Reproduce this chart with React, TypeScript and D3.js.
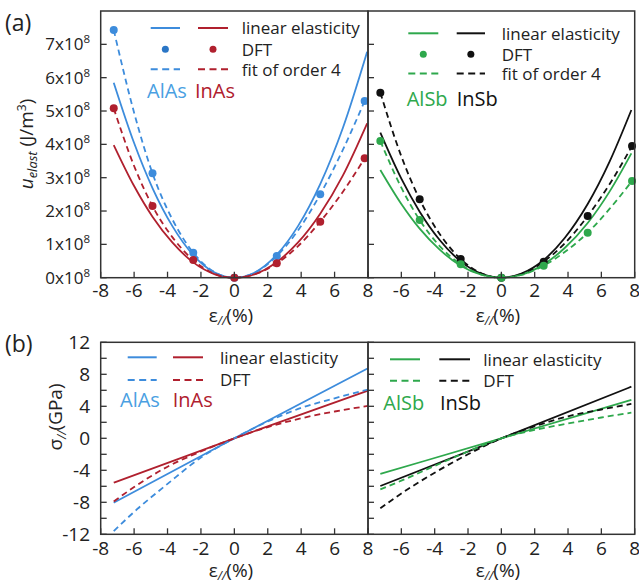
import React from "react";
import * as d3 from "d3";

// ---------- (a) energy density, 1e8 J/m^3 ----------
const linStrainA = [-7.22, -6, -4.9, -3.7, -2.46, -1.2, 0, 1.2, 2.54, 3.8, 5.14, 6.5, 7.95];
const alasLinU = [5.85, 4.04, 2.69, 1.54, 0.68, 0.16, 0, 0.15, 0.69, 1.54, 2.81, 4.5, 6.78];
const inasLinU = [3.98, 2.75, 1.83, 1.05, 0.46, 0.11, 0, 0.1, 0.47, 1.05, 1.92, 3.07, 4.63];
const dftStrainA = [-7.22, -4.9, -2.46, 0, 2.54, 5.14, 7.8];
const alasDftU = [7.43, 3.13, 0.75, 0, 0.65, 2.5, 5.3];
const inasDftU = [5.08, 2.15, 0.53, 0, 0.43, 1.68, 3.58];
const fitStrainA = [-7.22, -6, -4.9, -3.7, -2.46, -1.2, 0, 1.2, 2.54, 3.8, 5.14, 6.5, 7.8];
const alasFitU = [7.43, 4.95, 3.13, 1.74, 0.75, 0.17, 0, 0.145, 0.65, 1.41, 2.5, 3.84, 5.3];
const inasFitU = [5.08, 3.35, 2.15, 1.21, 0.53, 0.12, 0, 0.1, 0.43, 0.94, 1.68, 2.58, 3.58];

const linStrainB = [-7.26, -6, -4.9, -3.7, -2.44, -1.2, 0, 1.2, 2.54, 3.8, 5.18, 6.5, 7.8];
const insbLinU = [4.35, 2.97, 1.98, 1.13, 0.49, 0.12, 0, 0.12, 0.53, 1.19, 2.21, 3.49, 5.03];
const alsbLinU = [3.23, 2.21, 1.47, 0.84, 0.36, 0.09, 0, 0.09, 0.4, 0.89, 1.64, 2.59, 3.73];
const dftStrainB = [-7.26, -4.9, -2.44, 0, 2.54, 5.18, 7.84];
const insbDftU = [5.55, 2.35, 0.56, 0, 0.48, 1.85, 3.95];
const alsbDftU = [4.1, 1.73, 0.4, 0, 0.36, 1.35, 2.9];
const fitStrainB = [-7.26, -6, -4.9, -3.7, -2.44, -1.2, 0, 1.2, 2.54, 3.8, 5.18, 6.5, 7.84];
const insbFitU = [5.55, 3.64, 2.35, 1.31, 0.56, 0.13, 0, 0.11, 0.48, 1.03, 1.85, 2.81, 3.95];
const alsbFitU = [4.1, 2.7, 1.73, 0.95, 0.4, 0.095, 0, 0.082, 0.36, 0.77, 1.35, 2.07, 2.9];

// ---------- (b) stress, GPa ----------
const linSigStrainA = [-7.22, 0, 8];
const alasLinSigma = [-8.05, 0, 8.75];
const inasLinSigma = [-5.55, 0, 5.95];
const dftSigStrainA = [-7.22, -6, -4, -2, 0, 2, 4, 6, 8];
const alasDftSigma = [-11.6, -9.2, -5.7, -2.4, 0, 2.1, 3.8, 5.0, 6.1];
const inasDftSigma = [-7.9, -6.1, -3.55, -1.65, 0, 1.4, 2.5, 3.35, 4.04];

const linSigStrainB = [-7.26, 0, 7.8];
const insbLinSigma = [-5.96, 0, 6.45];
const alsbLinSigma = [-4.46, 0, 4.79];
const dftSigStrainB = [-7.26, -6, -4, -2, 0, 2, 4, 6, 7.8];
const insbDftSigma = [-8.75, -6.9, -4.3, -2.0, 0, 1.5, 2.75, 3.6, 4.3];
const alsbDftSigma = [-6.38, -5.3, -3.45, -1.65, 0, 1.05, 1.85, 2.6, 3.2];

const xTicks = [-8, -6, -4, -2, 0, 2, 4, 6, 8];
const uTicks = [0, 1, 2, 3, 4, 5, 6, 7];
const sigmaTicks = [-12, -10, -8, -6, -4, -2, 0, 2, 4, 6, 8, 10, 12];
const sigmaLabels = [-12, -8, -4, 0, 4, 8, 12];

const BLUE = "#3d8cdc";
const BLUE_DOT = "#2a76c6";
const BLUE_TXT = "#4a9fe2";
const RED = "#b0202e";
const GREEN = "#2ea84c";
const BLACK = "#111";
const FRAME = "#333";
const FONT = "'Open Sans', 'Noto Sans', sans-serif";
const DASH = "6,4";

const xL = d3.scaleLinear().domain([-8, 8]).range([100.7, 368]);
const xR = d3.scaleLinear().domain([-8, 8]).range([368, 634.7]);
const yU = d3.scaleLinear().domain([0, 8]).range([277.7, 11]);
const yS = d3.scaleLinear().domain([-12, 12]).range([534.3, 342.3]);

function path(xs: number[], ys: number[], sx: any, sy: any) {
  const pts = xs.map((x, i) => [x, ys[i]] as [number, number]);
  return d3
    .line<[number, number]>()
    .x((d) => sx(d[0]))
    .y((d) => sy(d[1]))
    .curve(d3.curveMonotoneX)(pts) as string;
}

function Curve({ xs, ys, sx, sy, color, dashed }: any) {
  return (
    <path
      d={path(xs, ys, sx, sy)}
      fill="none"
      stroke={color}
      strokeWidth={1.8}
      strokeDasharray={dashed ? DASH : undefined}
    />
  );
}

function Dots({ xs, ys, sx, sy, color }: any) {
  return (
    <g>
      {xs.map((x: number, i: number) => (
        <circle key={i} cx={sx(x)} cy={sy(ys[i])} r={4} fill={color} />
      ))}
    </g>
  );
}

function Frame({ sx, sy, yTicks }: any) {
  const [x0, x1] = sx.range();
  const [yb, yt] = sy.range();
  return (
    <g>
      {xTicks.map((t) => (
        <line key={"x" + t} x1={sx(t)} x2={sx(t)} y1={yb} y2={yb - 6} stroke={FRAME} strokeWidth={1.3} />
      ))}
      {yTicks.map((t: number) => (
        <line key={"y" + t} x1={x0} x2={x0 + 6} y1={sy(t)} y2={sy(t)} stroke={FRAME} strokeWidth={1.3} />
      ))}
      <rect x={x0} y={yt} width={x1 - x0} height={yb - yt} fill="none" stroke={FRAME} strokeWidth={1.5} />
    </g>
  );
}

function XLabels({ sx, y, skipFirst }: any) {
  return (
    <g fontSize={19} fontFamily={FONT} fill="#222" textAnchor="middle">
      {xTicks
        .filter((t, i) => !(skipFirst && i === 0))
        .map((t) => (
          <text key={t} x={sx(t)} y={y}>
            {t}
          </text>
        ))}
    </g>
  );
}

function EpsLabel({ x, y }: any) {
  return (
    <text x={x} y={y} fontSize={19} fontFamily={FONT} fill="#222" textAnchor="middle">
      ε<tspan fontSize={12} dy={3} fontStyle="italic">//</tspan>
      <tspan dy={-3}>(%)</tspan>
    </text>
  );
}

function Legend({ l1, l2, textX, rows, c1, c2, dots, texts, labX, labY, n1, n2, n1c, n2c }: any) {
  const dashRow = rows[dots ? 2 : 1];
  return (
    <g fontFamily={FONT}>
      <line x1={l1[0]} x2={l1[1]} y1={rows[0]} y2={rows[0]} stroke={c1} strokeWidth={2} />
      <line x1={l2[0]} x2={l2[1]} y1={rows[0]} y2={rows[0]} stroke={c2} strokeWidth={2} />
      {dots && (
        <g>
          <circle cx={(l1[0] + l1[1]) / 2} cy={rows[1]} r={3.5} fill={c1 === BLUE ? BLUE_DOT : c1} />
          <circle cx={(l2[0] + l2[1]) / 2} cy={rows[1]} r={3.5} fill={c2} />
        </g>
      )}
      <line x1={l1[0]} x2={l1[1]} y1={dashRow} y2={dashRow} stroke={c1} strokeWidth={2} strokeDasharray="7,4.5" />
      <line x1={l2[0]} x2={l2[1]} y1={dashRow} y2={dashRow} stroke={c2} strokeWidth={2} strokeDasharray="7,4.5" />
      {texts.map((t: string, i: number) => (
        <text key={t} x={textX} y={rows[i] + 6.2} fontSize={17} fill="#222">
          {t}
        </text>
      ))}
      <text x={labX[0]} y={labY} fontSize={20} fill={n1c}>
        {n1}
      </text>
      <text x={labX[1]} y={labY} fontSize={20} fill={n2c}>
        {n2}
      </text>
    </g>
  );
}

export default function App() {
  return (
    <svg width={639} height={585} style={{ position: "absolute", left: 0, top: 0, background: "#fff" }}>
      <rect x={0} y={0} width={639} height={585} fill="#fff" />
      {/* ---------------- (a) ---------------- */}
      <text x={5} y={31} fontSize={23} fontFamily={FONT} fill="#222">(a)</text>

      {/* left top panel */}
      <Curve xs={linStrainA} ys={alasLinU} sx={xL} sy={yU} color={BLUE} />
      <Curve xs={linStrainA} ys={inasLinU} sx={xL} sy={yU} color={RED} />
      <Curve xs={fitStrainA} ys={alasFitU} sx={xL} sy={yU} color={BLUE} dashed />
      <Curve xs={fitStrainA} ys={inasFitU} sx={xL} sy={yU} color={RED} dashed />
      <Dots xs={dftStrainA} ys={alasDftU} sx={xL} sy={yU} color={BLUE} />
      <Dots xs={dftStrainA} ys={inasDftU} sx={xL} sy={yU} color={RED} />

      {/* right top panel */}
      <Curve xs={linStrainB} ys={insbLinU} sx={xR} sy={yU} color={BLACK} />
      <Curve xs={linStrainB} ys={alsbLinU} sx={xR} sy={yU} color={GREEN} />
      <Curve xs={fitStrainB} ys={insbFitU} sx={xR} sy={yU} color={BLACK} dashed />
      <Curve xs={fitStrainB} ys={alsbFitU} sx={xR} sy={yU} color={GREEN} dashed />
      <Dots xs={dftStrainB} ys={insbDftU} sx={xR} sy={yU} color={BLACK} />
      <Dots xs={dftStrainB} ys={alsbDftU} sx={xR} sy={yU} color={GREEN} />

      <Frame sx={xL} sy={yU} yTicks={uTicks} />
      <Frame sx={xR} sy={yU} yTicks={uTicks} />

      <g fontSize={17} fontFamily={FONT} fill="#222" textAnchor="end">
        {uTicks.map((t) => (
          <text key={t} x={90} y={yU(t) + 6}>
            {t}x10<tspan fontSize={11.5} dy={-7}>8</tspan>
          </text>
        ))}
      </g>
      <text
        transform="translate(33,144) rotate(-90)"
        textAnchor="middle"
        fontSize={19}
        fontFamily={FONT}
        fill="#222"
      >
        <tspan fontStyle="italic">u</tspan>
        <tspan fontStyle="italic" fontSize={13} dy={4}>elast</tspan>
        <tspan dy={-4}> (J/m</tspan>
        <tspan fontSize={12} dy={-7}>3</tspan>
        <tspan dy={7}>)</tspan>
      </text>

      <XLabels sx={xL} y={297} />
      <XLabels sx={xR} y={297} skipFirst />
      <EpsLabel x={231} y={322} />
      <EpsLabel x={498} y={322} />

      <Legend
        l1={[150.7, 180]}
        l2={[198, 228]}
        rows={[28, 49.3, 69.3]}
        textX={241.7}
        c1={BLUE}
        c2={RED}
        dots
        texts={["linear elasticity", "DFT", "fit of order 4"]}
        labX={[147, 195]}
        labY={97.5}
        n1="AlAs"
        n2="InAs"
        n1c={BLUE_TXT}
        n2c={RED}
      />
      <Legend
        l1={[408.3, 438.3]}
        l2={[456.7, 485]}
        rows={[33.3, 54.3, 73.5]}
        textX={501.7}
        c1={GREEN}
        c2={BLACK}
        dots
        texts={["linear elasticity", "DFT", "fit of order 4"]}
        labX={[406.7, 456.7]}
        labY={106}
        n1="AlSb"
        n2="InSb"
        n1c={GREEN}
        n2c={BLACK}
      />

      {/* ---------------- (b) ---------------- */}
      <text x={5} y={352} fontSize={23} fontFamily={FONT} fill="#222">(b)</text>

      <Curve xs={linSigStrainA} ys={alasLinSigma} sx={xL} sy={yS} color={BLUE} />
      <Curve xs={linSigStrainA} ys={inasLinSigma} sx={xL} sy={yS} color={RED} />
      <Curve xs={dftSigStrainA} ys={alasDftSigma} sx={xL} sy={yS} color={BLUE} dashed />
      <Curve xs={dftSigStrainA} ys={inasDftSigma} sx={xL} sy={yS} color={RED} dashed />

      <Curve xs={linSigStrainB} ys={insbLinSigma} sx={xR} sy={yS} color={BLACK} />
      <Curve xs={linSigStrainB} ys={alsbLinSigma} sx={xR} sy={yS} color={GREEN} />
      <Curve xs={dftSigStrainB} ys={insbDftSigma} sx={xR} sy={yS} color={BLACK} dashed />
      <Curve xs={dftSigStrainB} ys={alsbDftSigma} sx={xR} sy={yS} color={GREEN} dashed />

      <Frame sx={xL} sy={yS} yTicks={sigmaTicks} />
      <Frame sx={xR} sy={yS} yTicks={sigmaTicks} />

      <g fontSize={19} fontFamily={FONT} fill="#222" textAnchor="end">
        {sigmaLabels.map((t) => (
          <text key={t} x={90} y={yS(t) + 7}>
            {t}
          </text>
        ))}
      </g>
      <text
        transform="translate(62,417) rotate(-90)"
        textAnchor="middle"
        fontSize={19}
        fontFamily={FONT}
        fill="#222"
      >
        σ<tspan fontSize={12} dy={4} fontStyle="italic">//</tspan>
        <tspan dy={-4}>(GPa)</tspan>
      </text>

      <XLabels sx={xL} y={555} />
      <XLabels sx={xR} y={555} skipFirst />
      <EpsLabel x={231} y={577} />
      <EpsLabel x={498} y={577} />

      <Legend
        l1={[127.7, 156.7]}
        l2={[173, 203]}
        rows={[357.3, 380]}
        textX={220}
        c1={BLUE}
        c2={RED}
        texts={["linear elasticity", "DFT"]}
        labX={[120, 172.7]}
        labY={406.5}
        n1="AlAs"
        n2="InAs"
        n1c={BLUE_TXT}
        n2c={RED}
      />
      <Legend
        l1={[390, 420]}
        l2={[439.3, 470]}
        rows={[359.3, 380.7]}
        textX={483.3}
        c1={GREEN}
        c2={BLACK}
        texts={["linear elasticity", "DFT"]}
        labX={[383.3, 440]}
        labY={409.5}
        n1="AlSb"
        n2="InSb"
        n1c={GREEN}
        n2c={BLACK}
      />
    </svg>
  );
}
